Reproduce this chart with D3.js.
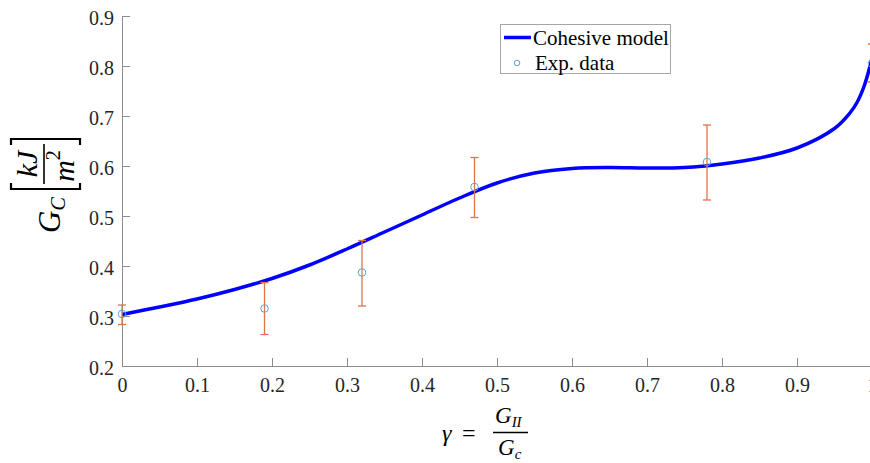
<!DOCTYPE html>
<html>
<head>
<meta charset="utf-8">
<script src="https://cdn.jsdelivr.net/npm/d3@7"></script>
<style>
  body { margin: 0; background: #fff; }
  svg { display: block; }
</style>
</head>
<body>
<div class="chart"></div>
<script>
// cohesive model curve
const model_gamma = [0, 0.05, 0.1, 0.15, 0.2, 0.25, 0.3, 0.35, 0.4, 0.45, 0.5, 0.55, 0.6, 0.65, 0.7, 0.75, 0.8, 0.85, 0.9, 0.95, 0.97, 0.98, 0.99, 1.0];
const model_gc    = [0.303, 0.318, 0.334, 0.353, 0.375, 0.402, 0.434, 0.468, 0.502, 0.536, 0.566, 0.586, 0.595, 0.597, 0.596, 0.597, 0.604, 0.616, 0.636, 0.675, 0.705, 0.727, 0.762, 0.815];

// experimental points with error bar ends
const exp_gamma = [0, 0.19, 0.32, 0.47, 0.78, 1.0];
const exp_gc    = [0.304, 0.315, 0.387, 0.558, 0.608, 0.805];
const exp_low   = [0.283, 0.263, 0.320, 0.497, 0.532, 0.768];
const exp_high  = [0.322, 0.367, 0.451, 0.617, 0.682, 0.844];

const x_ticks = [0, 0.1, 0.2, 0.3, 0.4, 0.5, 0.6, 0.7, 0.8, 0.9, 1];
const y_ticks = [0.2, 0.3, 0.4, 0.5, 0.6, 0.7, 0.8, 0.9];

const legend_labels = ["Cohesive model", "Exp. data"];

const width = 870, height = 463;
const serif = "'Liberation Serif', 'Times New Roman', serif";

const svg = d3.select(".chart").append("svg")
  .attr("width", width)
  .attr("height", height);

const x = d3.scaleLinear().domain([0, 1]).range([122, 872]);
const y = d3.scaleLinear().domain([0.2, 0.9]).range([366, 16]);

// axes (ticks point inward, no box)
const xAxis = svg.append("g")
  .attr("transform", `translate(0, ${y(0.2)})`)
  .call(d3.axisBottom(x).tickValues(x_ticks).tickSizeInner(-8).tickSizeOuter(0)
    .tickFormat(d3.format("")));
const yAxis = svg.append("g")
  .attr("transform", `translate(${x(0)}, 0)`)
  .call(d3.axisLeft(y).tickValues(y_ticks).tickSizeInner(-8).tickSizeOuter(0)
    .tickFormat(d3.format(".1f")));

[xAxis, yAxis].forEach(a => {
  a.attr("font-family", serif).attr("font-size", 20);
  a.select(".domain").attr("stroke", "#8c8c8c").attr("stroke-width", 1);
  a.selectAll(".tick line").attr("stroke", "#8c8c8c");
  a.selectAll(".tick text")
    .attr("font-family", serif)
    .attr("font-size", "20px")
    .attr("fill", "#262626");
});
xAxis.selectAll(".tick text").attr("y", 12).attr("dy", "0.71em");
yAxis.selectAll(".tick text").attr("x", -8).attr("dy", "0.42em");

// model curve
const pts = model_gamma.map((g, i) => [g, model_gc[i]]);
svg.append("path")
  .datum(pts)
  .attr("fill", "none")
  .attr("stroke", "#0000ff")
  .attr("stroke-width", 3.5)
  .attr("d", d3.line().x(d => x(d[0])).y(d => y(d[1])).curve(d3.curveCatmullRom.alpha(0.5)));

// error bars
const exp_data = exp_gamma.map((g, i) => ({g: g, v: exp_gc[i], lo: exp_low[i], hi: exp_high[i]}));
const errColor = "#e0734a";
const eb = svg.append("g").selectAll("g")
  .data(exp_data)
  .enter()
  .append("g")
  .attr("stroke", errColor)
  .attr("stroke-width", 1.3);
eb.append("line")
  .attr("x1", d => x(d.g)).attr("x2", d => x(d.g))
  .attr("y1", d => y(d.lo)).attr("y2", d => y(d.hi));
eb.append("line")
  .attr("x1", d => x(d.g) - 4).attr("x2", d => x(d.g) + 4)
  .attr("y1", d => y(d.lo)).attr("y2", d => y(d.lo));
eb.append("line")
  .attr("x1", d => x(d.g) - 4).attr("x2", d => x(d.g) + 4)
  .attr("y1", d => y(d.hi)).attr("y2", d => y(d.hi));

svg.append("g").selectAll("circle")
  .data(exp_data)
  .enter()
  .append("circle")
  .attr("cx", d => x(d.g))
  .attr("cy", d => y(d.v))
  .attr("r", 3.8)
  .attr("fill", "none")
  .attr("stroke", "#5fa2d0")
  .attr("stroke-width", 1);

// legend
const lg = svg.append("g");
lg.append("rect")
  .attr("x", 500.5).attr("y", 24.5)
  .attr("width", 170).attr("height", 49)
  .attr("fill", "#fff")
  .attr("stroke", "#a6a6a6");
lg.append("line")
  .attr("x1", 504).attr("x2", 531).attr("y1", 37.5).attr("y2", 37.5)
  .attr("stroke", "#0000ff").attr("stroke-width", 3.5);
lg.append("circle")
  .attr("cx", 517).attr("cy", 63).attr("r", 2.8)
  .attr("fill", "none").attr("stroke", "#5fa2d0");
lg.selectAll("text")
  .data(legend_labels)
  .enter()
  .append("text")
  .text(d => d)
  .attr("x", (d, i) => i === 0 ? 533 : 535)
  .attr("y", (d, i) => i === 0 ? 45 : 70)
  .attr("font-family", serif)
  .attr("font-size", "21px")
  .attr("fill", "#000");

// x label: gamma = G_II / G_c
const xl = svg.append("g").attr("font-family", serif).attr("font-style", "italic").attr("fill", "#000");
xl.append("text").attr("x", 442).attr("y", 441).attr("font-size", "24px").text("γ");
xl.append("text").attr("x", 462).attr("y", 441).attr("font-size", "24px").attr("font-style", "normal").text("=");
xl.append("line").attr("x1", 493).attr("x2", 528).attr("y1", 432.5).attr("y2", 432.5)
  .attr("stroke", "#000").attr("stroke-width", 1.3);
const num = xl.append("text").attr("x", 495).attr("y", 423).attr("font-size", "23px");
num.append("tspan").text("G");
num.append("tspan").attr("font-size", "15px").attr("dy", 4).text("II");
const den = xl.append("text").attr("x", 498).attr("y", 455).attr("font-size", "23px");
den.append("tspan").text("G");
den.append("tspan").attr("font-size", "15px").attr("dy", 4).text("c");

// y label: G_C [kJ / m^2], rotated
const yl = svg.append("g")
  .attr("transform", "translate(45, 187) rotate(-90)")
  .attr("font-family", serif)
  .attr("font-style", "italic")
  .attr("fill", "#000");
const gc = yl.append("text").attr("x", -46).attr("y", 15).attr("font-size", "31px");
gc.append("tspan").text("G");
gc.append("tspan").attr("font-size", "20px").attr("dy", 5).text("C");
yl.append("path")
  .attr("d", "M4,-34 L-2,-34 L-2,35 L4,35")
  .attr("fill", "none").attr("stroke", "#000").attr("stroke-width", 2.2);
yl.append("path")
  .attr("d", "M42,-34 L48,-34 L48,35 L42,35")
  .attr("fill", "none").attr("stroke", "#000").attr("stroke-width", 2.2);
yl.append("line").attr("x1", 3).attr("x2", 43).attr("y1", -1).attr("y2", -1)
  .attr("stroke", "#000").attr("stroke-width", 1.6);
yl.append("text").attr("x", 23).attr("y", -8).attr("text-anchor", "middle")
  .attr("font-size", "30px").text("kJ");
const den2 = yl.append("text").attr("x", 21).attr("y", 29).attr("text-anchor", "middle")
  .attr("font-size", "30px");
den2.append("tspan").text("m");
den2.append("tspan").attr("font-size", "20px").attr("dy", -14).attr("font-style", "normal").text("2");
</script>
</body>
</html>
